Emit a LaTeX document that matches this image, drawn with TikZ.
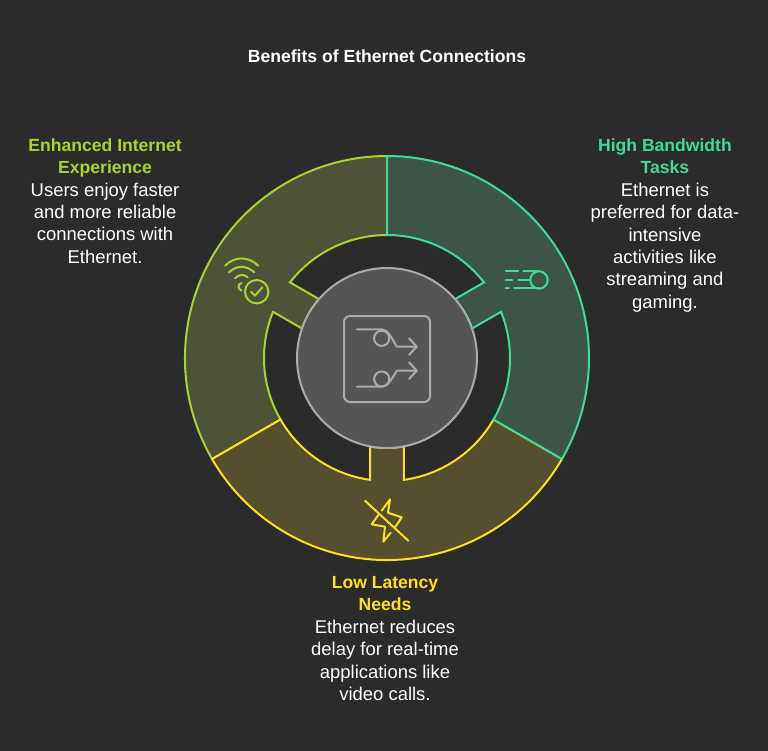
\documentclass[tikz,border=0pt]{standalone}
\usepackage{fontspec}
\setmainfont{Liberation Sans}
\usetikzlibrary{positioning}
\definecolor{bgdark}{HTML}{2B2B2B}
\definecolor{mint}{HTML}{3DDC97}
\definecolor{mintfill}{HTML}{3C5548}
\definecolor{lime}{HTML}{A6D62B}
\definecolor{limefill}{HTML}{4D5238}
\definecolor{gold}{HTML}{FFE01B}
\definecolor{goldfill}{HTML}{554E2F}
\definecolor{hubgrey}{HTML}{ABABAB}
\definecolor{hubfill}{HTML}{555555}
\tikzset{
    segment/.style={line width=0.04cm,miter limit=10},
    icon/.style={line width=0.04cm,line cap=round,line join=round},
    label/.style={on grid,anchor=center,align=center,text=white,inner sep=0pt,
        font=\fontsize{10.5}{12.75}\selectfont},
    heading/.style={label,font=\fontsize{10}{12.75}\selectfont\bfseries},
}

\begin{document}
\begin{tikzpicture}[x=0.02cm,y=-0.02cm]
    \fill[bgdark] (0,0) rectangle (768,751);
    \useasboundingbox (0,0) rectangle (768,751);
    % segments, back to front
    \begin{scope}[shift={(387,358)}]
        \foreach \mid/\col in {-150/lime,90/gold,-30/mint}{
            \draw[segment,draw=\col,fill=\col fill]
                ({\mid-60}:202) arc[start angle=\mid-60,delta angle=120,radius=202]
                -- ({\mid+60}:123) arc[start angle=\mid+60,end angle=\mid+7.94,radius=123]
                -- ({\mid+10.88}:90) arc[start angle=\mid+10.88,end angle=\mid-10.88,radius=90]
                -- ({\mid-7.94}:123) arc[start angle=\mid-7.94,end angle=\mid-60,radius=123]
                -- cycle;
        }
    \end{scope}
    \node[circle,draw=hubgrey,fill=hubfill,line width=0.04cm,minimum size=3.6cm,inner sep=0pt] (hub) at (387,358) {};

    % hub icon
    \begin{scope}[icon,draw=hubgrey]
        \draw[rounded corners=0.12cm] (344,316) rectangle (430,402);
        \draw (357,329.3) -- (381,329.3) .. controls (388,329.3) and (391,337) .. (396.7,346.7) -- (416.7,346.7);
        \draw (409,338.3) -- (416.7,346.7) -- (409,354.8);
        \draw (381.7,338.3) circle (7.6);
        \draw (357,386.7) -- (381,386.7) .. controls (388,386.7) and (391,380) .. (396.7,370.7) -- (416.7,370.7);
        \draw (409,362.3) -- (416.7,370.7) -- (409,379);
        \draw (381.7,379) circle (7.6);
    \end{scope}

    % wifi icon
    \begin{scope}[icon,draw=lime]
        \draw (225,265.7) .. controls (235,256) and (248,256) .. (258.3,265.7);
        \draw (229,272.3) .. controls (237,265) and (246,265) .. (254.3,272.3);
        \draw (235,278.3) .. controls (239,274) and (244,274) .. (247.7,277.3);
        \draw (241.5,283) .. controls (237.5,284) and (237.5,289) .. (241.5,290.5);
        \draw (256.7,291.7) circle (11.7);
        \draw (251,291.7) -- (255,295.7) -- (262.3,287.3);
    \end{scope}

    % speed icon
    \begin{scope}[icon,draw=mint]
        \draw (539,280) circle (8.7);
        \draw (505.7,271.3) -- (518.3,271.3);
        \draw (523.3,271.3) -- (539,271.3);
        \draw (505.7,280) -- (512.3,280);
        \draw (518.3,280) -- (530.3,280);
        \draw (505.7,288.3) -- (509,288.3);
        \draw (514,288.3) -- (539,288.3);
    \end{scope}

    % bolt icon
    \begin{scope}[icon,draw=gold]
        \draw (365,500.7) -- (408.3,540.7);
        \draw (381.7,510.7) -- (390,499.3) -- (388,512.7) -- (401.7,517.3) -- (395,527.3);
        \draw (390.7,532.7) -- (383.3,541.7) -- (385,526.7) -- (371.7,524.3) -- (378.3,515);
    \end{scope}

    %% texts
    \node[heading,above=6.04cm of hub] (title) {Benefits of Ethernet Connections};
    \node[label,above right=2.65cm and 5.56cm of hub] (bandwidth) {%
        {\fontsize{10}{12.75}\selectfont\textcolor{mint}{\textbf{High Bandwidth}}}\\
        {\fontsize{10}{12.75}\selectfont\textcolor{mint}{\textbf{Tasks}}}\\
        Ethernet is\\preferred for data-\\intensive\\activities like\\streaming and\\gaming.};
    \node[label,above left=3.14cm and 5.64cm of hub] (experience) {%
        {\fontsize{10}{12.75}\selectfont\textcolor{lime}{\textbf{Enhanced Internet}}}\\
        {\fontsize{10}{12.75}\selectfont\textcolor{lime}{\textbf{Experience}}}\\
        Users enjoy faster\\and more reliable\\connections with\\Ethernet.};
    \node[label,below left=5.61cm and 0.04cm of hub] (latency) {%
        {\fontsize{10}{12.75}\selectfont\textcolor{gold}{\textbf{Low Latency}}}\\
        {\fontsize{10}{12.75}\selectfont\textcolor{gold}{\textbf{Needs}}}\\
        Ethernet reduces\\delay for real-time\\applications like\\video calls.};
\end{tikzpicture}
\end{document}
